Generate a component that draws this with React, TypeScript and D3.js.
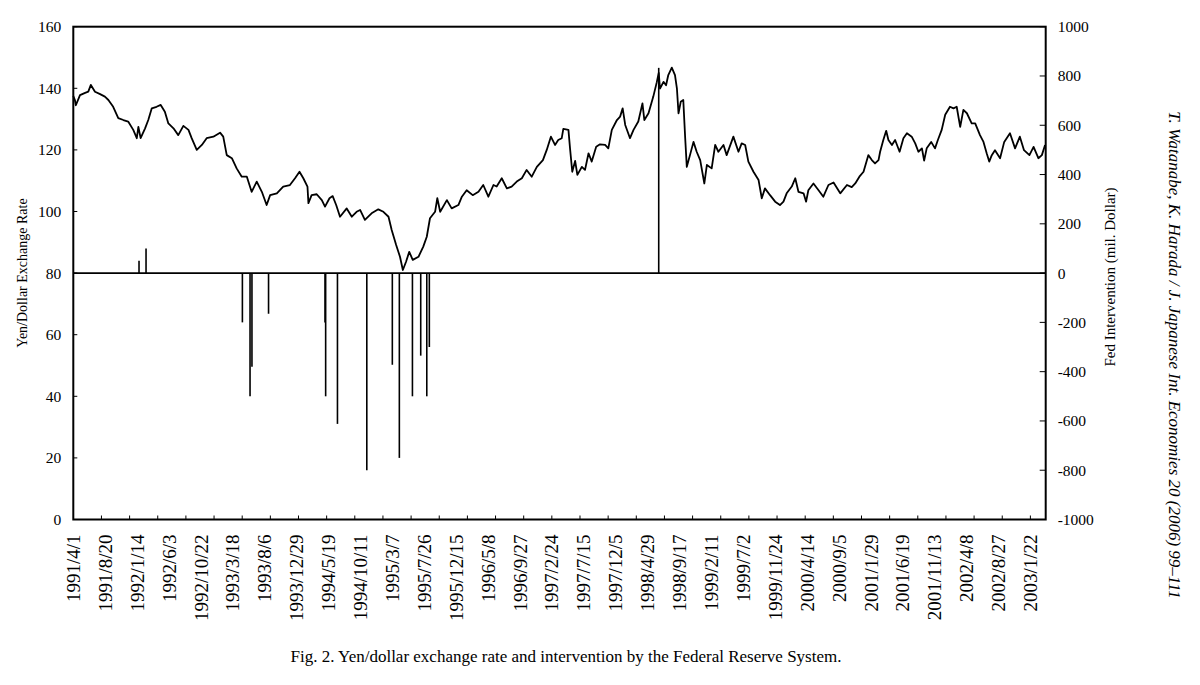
// Fig. 2: Yen/dollar exchange rate and Fed intervention
import React, { useEffect, useRef } from 'react';
import * as d3 from 'd3';

// business-day index (0 = 1991/4/1) and yen/dollar rate
const rateDays = [
  0, 5, 8, 21, 37, 47, 55, 68, 84, 99, 110, 125, 141, 157, 172, 188, 199, 204, 211, 225,
  235, 246, 261, 274, 287, 298, 314, 329, 345, 361, 371, 387, 403, 418, 439, 460, 470, 481,
  497, 512, 528, 544, 559, 575, 591, 606, 617, 638, 658, 679, 695, 709, 721, 734, 737, 747,
  763, 779, 789, 803, 813, 824, 836, 857, 873, 888, 899, 914, 935, 956, 972, 988, 998, 1012,
  1024, 1033, 1043, 1053, 1064, 1082, 1097, 1108, 1118, 1134, 1141, 1150, 1171, 1186, 1207,
  1218, 1233, 1252, 1270, 1285, 1301, 1317, 1327, 1343, 1359, 1374, 1390, 1406, 1421, 1437,
  1453, 1472, 1484, 1497, 1510, 1520, 1531, 1536, 1552, 1557, 1564, 1573, 1580, 1594, 1604,
  1615, 1625, 1639, 1651, 1667, 1677, 1688, 1704, 1714, 1722, 1730, 1745, 1756, 1771, 1784,
  1790, 1803, 1818, 1829, 1835, 1839, 1850, 1858, 1865, 1876, 1886, 1892, 1897, 1904, 1912,
  1918, 1923, 1933, 1944, 1954, 1965, 1978, 1986, 2001, 2012, 2022, 2038, 2048, 2069, 2085,
  2095, 2106, 2116, 2132, 2148, 2158, 2168, 2184, 2200, 2215, 2226, 2236, 2252, 2263, 2273,
  2289, 2297, 2304, 2320, 2336, 2351, 2367, 2383, 2404, 2425, 2440, 2451, 2464, 2477, 2492,
  2503, 2513, 2524, 2529, 2539, 2548, 2555, 2566, 2576, 2590, 2602, 2613, 2628, 2639, 2649,
  2660, 2667, 2675, 2689, 2701, 2710, 2722, 2733, 2748, 2759, 2769, 2780, 2790, 2801, 2816,
  2827, 2842, 2853, 2863, 2871, 2879, 2889, 2905, 2918, 2936, 2952, 2967, 2980, 2997, 3010,
  3025, 3036, 3046,
];
const rateValues = [
  137.5, 136.2, 134.5, 137.8, 138.5, 138.9, 141.1, 138.9, 138.1, 137.3, 136.2, 134, 130.3,
  129.7, 129.2, 126.5, 123.8, 127.5, 123.8, 127, 129.7, 133.5, 134, 134.6, 132.4, 128.6, 127,
  124.8, 127.8, 126.5, 123.8, 120, 121.6, 123.8, 124.3, 125.6, 124.3, 118.3, 117.3, 114,
  111.3, 111.3, 106.4, 109.7, 106.4, 102.1, 105.3, 105.9, 108.1, 108.6, 110.8, 112.9, 110.8,
  108.1, 102.7, 105.3, 105.6, 103.7, 101.6, 104.3, 105, 102.1, 98.3, 101, 98.3, 99.9, 100.5,
  97.3, 99.4, 100.7, 99.9, 98.3, 94, 89.1, 85.3, 81, 83.7, 86.9, 84.3, 85.3, 88.6, 91.8, 97.8,
  99.9, 104.3, 99.9, 103.7, 101, 102.1, 104.8, 106.9, 105.3, 106.4, 108.6, 104.8, 108.6,
  108.1, 110.8, 107.5, 108.1, 109.7, 110.8, 113.5, 111.3, 114.5, 116.7, 120, 124.3, 121.6,
  123.2, 123.8, 126.8, 126.5, 120.5, 112.9, 116.4, 111.9, 114.5, 113.5, 118.9, 116.2, 121,
  121.8, 121.6, 120.5, 126.5, 129.7, 130.8, 133.5, 128.1, 123.8, 126.5, 129.2, 135.1, 129.7,
  131.9, 137.3, 142, 145, 139.9, 142.1, 141, 144.3, 146.7, 144.3, 140, 131.9, 135.6, 136.2,
  123.8, 114.5, 118.3, 122.6, 119.4, 116.7, 109.1, 115.1, 114, 121.6, 119.4, 121.6, 118.3,
  124.3, 119.4, 122.1, 121.6, 116.2, 112.9, 110.2, 104.3, 107.5, 105.3, 103.2, 102.1, 103.2,
  105.9, 108.1, 110.8, 106.4, 105.9, 103.2, 106.9, 109.1, 106.9, 104.8, 108.6, 109.4, 105.9,
  108.6, 107.9, 109.1, 111.3, 112.9, 118.3, 116.7, 115.6, 116.7, 119.4, 123.2, 126.2, 123.2,
  121.6, 123.2, 119.4, 123.8, 125.4, 124.3, 122.1, 119.4, 120.5, 116.5, 120.5, 122.6, 120.5,
  123.2, 126.5, 131.4, 134, 133.5, 134, 127.5, 133, 131.9, 128.6, 128.6, 124.8, 122.6, 118.9,
  116.2, 118.3, 119.9, 117.3, 122.6, 125.4, 120.5, 124.3, 119.9, 118.3, 121, 117.3, 118.3,
  121.6,
];

// Fed intervention (mil. dollar)
const interventionDays = [206, 228, 530, 554, 560, 612, 789, 791, 828, 920, 1000, 1022, 1063, 1089, 1108, 1116, 1835];
const interventionAmounts = [50, 100, -200, -500, -380, -165, -200, -500, -612, -800, -372, -750, -500, -335, -500, -300, 833];

// one label every 100 business days
const dateLabels = [
  '1991/4/1', '1991/8/20', '1992/1/14', '1992/6/3', '1992/10/22', '1993/3/18', '1993/8/6',
  '1993/12/29', '1994/5/19', '1994/10/11', '1995/3/7', '1995/7/26', '1995/12/15', '1996/5/8',
  '1996/9/27', '1997/2/24', '1997/7/15', '1997/12/5', '1998/4/29', '1998/9/17', '1999/2/11',
  '1999/7/2', '1999/11/24', '2000/4/14', '2000/9/5', '2001/1/29', '2001/6/19', '2001/11/13',
  '2002/4/8', '2002/8/27', '2003/1/22',
];
const leftTicks = [0, 20, 40, 60, 80, 100, 120, 140, 160];
const rightTicks = [-1000, -800, -600, -400, -200, 0, 200, 400, 600, 800, 1000];

const FONT = '"Liberation Serif", "Times New Roman", serif';

const App: React.FC = () => {
  const svgRef = useRef<SVGSVGElement>(null);

  useEffect(() => {
    const svg = d3.select(svgRef.current);
    svg.selectAll('*').remove();

    const left = 73.3;
    const right = 1045.7;
    const top = 26.7;
    const bottom = 519.5;
    const lastDay = 3048;

    const x = d3.scaleLinear().domain([0, lastDay]).range([left, right]);
    const yL = d3.scaleLinear().domain([0, 160]).range([bottom, top]);
    const yR = d3.scaleLinear().domain([-1000, 1000]).range([bottom, top]);

    // intervention bars
    svg
      .append('g')
      .selectAll('line')
      .data(interventionDays)
      .join('line')
      .attr('x1', (d) => x(d))
      .attr('x2', (d) => x(d))
      .attr('y1', yR(0))
      .attr('y2', (_, i) => yR(interventionAmounts[i]))
      .attr('stroke', '#000')
      .attr('stroke-width', 1.6);

    // zero line of the intervention axis
    svg
      .append('line')
      .attr('x1', left)
      .attr('x2', right)
      .attr('y1', yR(0))
      .attr('y2', yR(0))
      .attr('stroke', '#000')
      .attr('stroke-width', 1.6);

    // exchange rate
    const line = d3
      .line<number>()
      .x((d) => x(d))
      .y((_, i) => yL(rateValues[i]));

    svg
      .append('path')
      .datum(rateDays)
      .attr('fill', 'none')
      .attr('stroke', '#000')
      .attr('stroke-width', 1.8)
      .attr('stroke-linejoin', 'round')
      .attr('d', line);

    // frame
    svg
      .append('rect')
      .attr('x', left)
      .attr('y', top)
      .attr('width', right - left)
      .attr('height', bottom - top)
      .attr('fill', 'none')
      .attr('stroke', '#000')
      .attr('stroke-width', 2);

    // inward ticks
    const tickStep = 3000 / 34;
    svg
      .append('g')
      .selectAll('line')
      .data(d3.range(tickStep, lastDay, tickStep))
      .join('line')
      .attr('x1', (d) => x(d))
      .attr('x2', (d) => x(d))
      .attr('y1', bottom)
      .attr('y2', bottom - 4)
      .attr('stroke', '#000')
      .attr('stroke-width', 1);

    svg
      .append('g')
      .selectAll('line')
      .data(leftTicks)
      .join('line')
      .attr('x1', left)
      .attr('x2', left + 4)
      .attr('y1', (d) => yL(d))
      .attr('y2', (d) => yL(d))
      .attr('stroke', '#000')
      .attr('stroke-width', 1);

    svg
      .append('g')
      .selectAll('line')
      .data(rightTicks)
      .join('line')
      .attr('x1', right - 6)
      .attr('x2', right)
      .attr('y1', (d) => yR(d))
      .attr('y2', (d) => yR(d))
      .attr('stroke', '#000')
      .attr('stroke-width', 1);

    // tick labels
    svg
      .append('g')
      .selectAll('text')
      .data(leftTicks)
      .join('text')
      .attr('x', left - 12)
      .attr('y', (d) => yL(d))
      .attr('dy', '0.35em')
      .attr('text-anchor', 'end')
      .style('font-family', FONT)
      .style('font-size', '15.5px')
      .text((d) => d);

    svg
      .append('g')
      .selectAll('text')
      .data(rightTicks)
      .join('text')
      .attr('x', right + 12)
      .attr('y', (d) => yR(d))
      .attr('dy', '0.35em')
      .style('font-family', FONT)
      .style('font-size', '15.5px')
      .text((d) => d);

    svg
      .append('g')
      .selectAll('text')
      .data(dateLabels)
      .join('text')
      .attr('transform', (_, i) => `translate(${x(i * 100)}, ${bottom + 15}) rotate(-90)`)
      .attr('dy', '0.35em')
      .attr('text-anchor', 'end')
      .style('font-family', FONT)
      .style('font-size', '19px')
      .text((d) => d);

    // axis titles
    svg
      .append('text')
      .attr('transform', `translate(22, ${(top + bottom) / 2}) rotate(-90)`)
      .attr('dy', '0.35em')
      .attr('text-anchor', 'middle')
      .style('font-family', FONT)
      .style('font-size', '14px')
      .text('Yen/Dollar Exchange Rate');

    svg
      .append('text')
      .attr('transform', `translate(1110, 277) rotate(-90)`)
      .attr('dy', '0.35em')
      .attr('text-anchor', 'middle')
      .style('font-family', FONT)
      .style('font-size', '15px')
      .text('Fed Intervention (mil. Dollar)');

    // journal running head
    svg
      .append('text')
      .attr('transform', `translate(1175, 355) rotate(90)`)
      .attr('dy', '0.35em')
      .attr('text-anchor', 'middle')
      .style('font-family', FONT)
      .style('font-style', 'italic')
      .style('font-size', '17px')
      .text('T. Watanabe, K. Harada / J. Japanese Int. Economies 20 (2006) 99–111');

    // caption
    svg
      .append('text')
      .attr('x', 566)
      .attr('y', 656)
      .attr('dy', '0.35em')
      .attr('text-anchor', 'middle')
      .style('font-family', FONT)
      .style('font-size', '17px')
      .text('Fig. 2. Yen/dollar exchange rate and intervention by the Federal Reserve System.');
  }, []);

  return (
    <svg
      ref={svgRef}
      width={1200}
      height={685}
      style={{ position: 'absolute', left: 0, top: 0, background: '#fff' }}
    />
  );
};

export default App;
